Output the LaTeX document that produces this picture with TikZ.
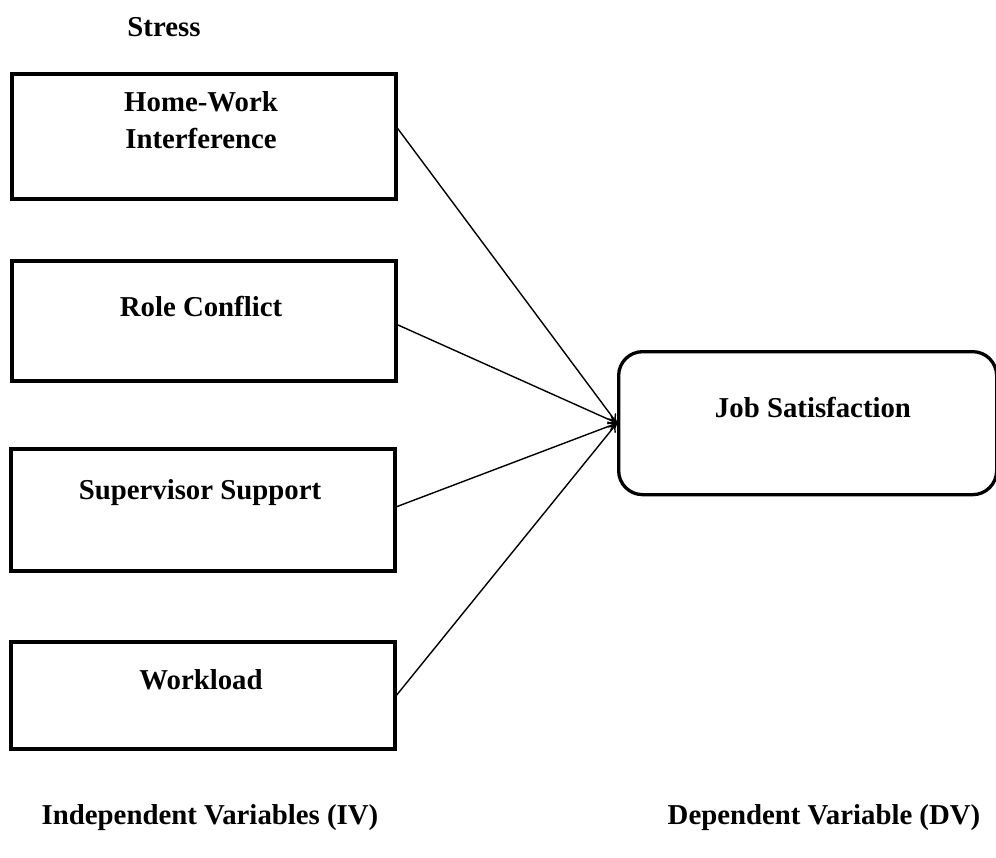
\documentclass[tikz,border=0pt]{standalone}
\usepackage{fontspec}
\setmainfont{Liberation Serif}
\usetikzlibrary{arrows.meta}
\begin{document}
\begin{tikzpicture}[x=1pt,y=-1pt,
  ivbox/.style={draw,line width=3.5pt,minimum width=384pt,anchor=north west,inner sep=0pt},
  dvbox/.style={draw,line width=3.3pt,rounded corners=24pt,minimum width=378pt,minimum height=143pt,anchor=north west,inner sep=0pt},
  lbl/.style={font=\fontsize{28.8}{37}\selectfont\bfseries,align=center,inner sep=0pt},
  conn/.style={line width=1.4pt,-{To[length=9pt,width=10pt]}}]
\useasboundingbox (0,0) rectangle (996,857);
\node[ivbox,minimum height=125pt] (b1) at (10,72) {};
\node[ivbox,minimum height=120pt] (b2) at (10,259) {};
\node[ivbox,minimum height=122pt] (b3) at (9,447) {};
\node[ivbox,minimum height=107pt] (b4) at (9,640) {};
\node[dvbox] (dv) at (617,350) {};
\node[lbl] (stress) at (164,27) {Stress};
\node[lbl] (t1) at (201,120) {Home-Work\\Interference};
\node[lbl] (t2) at (201,306) {Role Conflict};
\node[lbl] (t3) at (200,493) {Supervisor Support};
\node[lbl] (t4) at (201,680) {Workload};
\node[lbl] (t5) at (813,407) {Job Satisfaction};
\node[lbl] (iv) at (210,818) {Independent Variables (IV)};
\node[lbl] (dvl) at (824,818) {Dependent Variable (DV)};
\coordinate (tip) at (dv.west);
\draw[conn] ([yshift=8pt]b1.east) -- (tip);
\draw[conn] ([yshift=-4pt]b2.east) -- (tip);
\draw[conn] ([yshift=3pt]b3.east) -- (tip);
\draw[conn] (b4.east) -- (tip);
\end{tikzpicture}
\end{document}
